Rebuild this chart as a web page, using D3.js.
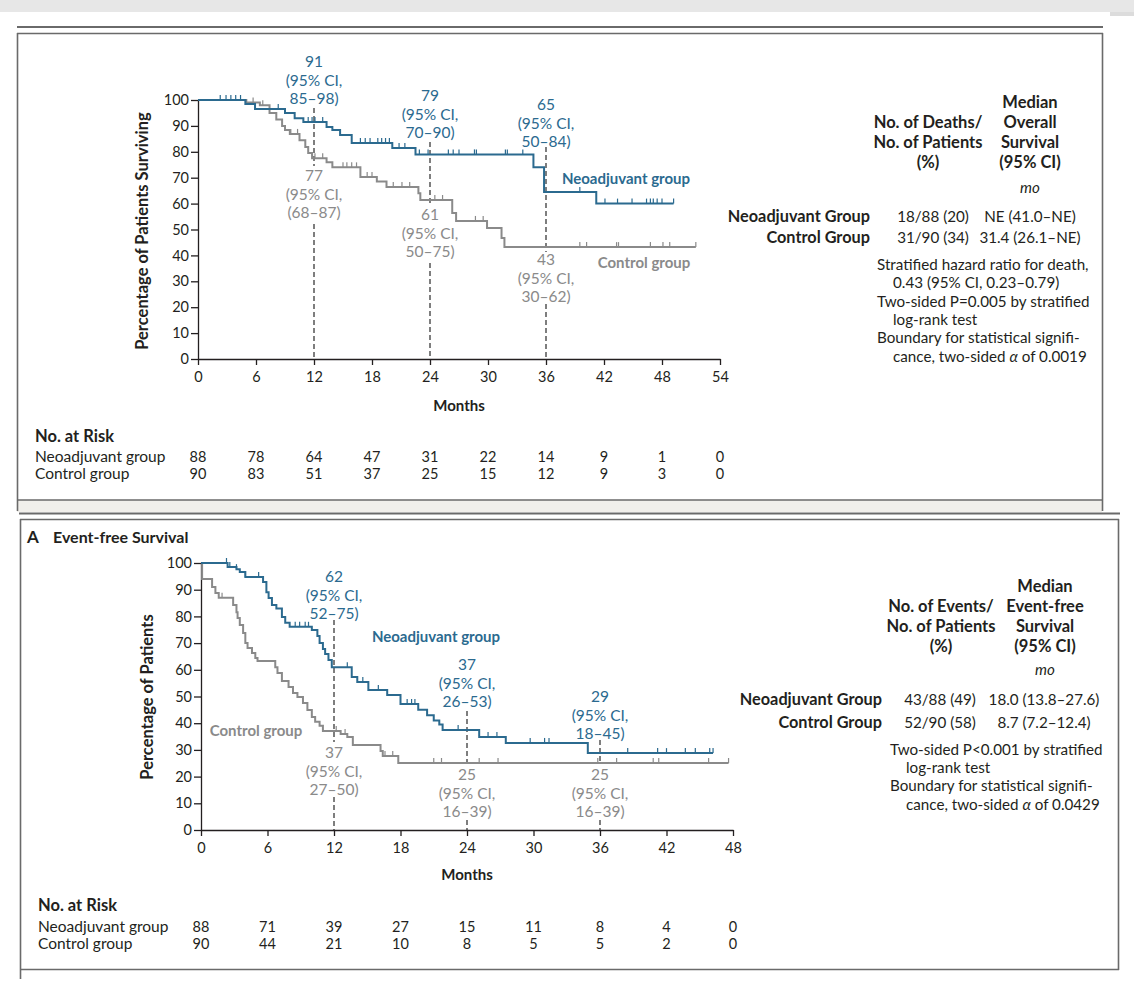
<!DOCTYPE html>
<html>
<head>
<meta charset="utf-8">
<script src="https://cdn.jsdelivr.net/npm/d3@7"></script>
<style>
  body { margin: 0; background: #fff; }
  svg { display: block; font-family: Lato, "Open Sans", sans-serif; }
</style>
</head>
<body>
<svg id="chart" width="1134" height="994"></svg>
<script>
// ---------------------------------------------------------
// DATA
// ---------------------------------------------------------

// Overall survival: [month, % surviving after the drop]
const osNeoSteps = [[4.9, 98.5], [5.9, 96.5], [9.0, 95], [10.0, 93], [10.9, 91.5], [13.3, 89.6],
  [13.9, 88.4], [14.7, 86.5], [15.9, 83.4], [20.1, 81.5], [22.5, 79], [34.7, 74], [35.8, 64.5], [41.2, 60]];
const osNeoEnd = 49.2;
const osNeoCensor = [2.3, 2.9, 3.4, 3.9, 4.4, 8.3, 11.4, 11.8, 12.1, 12.9, 16.8, 17.3, 17.8, 18.6, 19.0,
  19.4, 19.8, 20.8, 21.4, 22.9, 23.8, 25.9, 26.4, 27.0, 28.6, 28.8, 31.8, 32.0, 33.6, 39.5, 42.1, 43.4,
  44.9, 46.4, 46.8, 47.1, 47.5, 48.0, 49.2];

const osCtrlSteps = [[5.0, 99], [6.4, 98], [7.4, 95], [8.1, 92.5], [8.7, 90], [9.0, 88.4], [9.5, 86.9],
  [10.5, 84.5], [11.1, 81.9], [11.4, 79.5], [11.8, 77.5], [13.3, 76], [13.9, 74], [16.8, 70.3], [18.5, 68.5],
  [19.5, 66.4], [22.8, 64], [23.0, 61.4], [26.3, 56.4], [26.7, 53.3], [29.9, 50.6], [31.4, 46.7], [31.7, 43.2]];
const osCtrlEnd = 51.5;
const osCtrlCensor = [5.7, 6.7, 9.6, 10.3, 12.1, 12.9, 15.0, 15.4, 15.9, 16.4, 17.5, 18.0, 20.2, 21.1, 21.9,
  24.5, 25.3, 28.7, 29.5, 39.5, 40.2, 43.3, 43.5, 46.8, 48.1, 48.8, 51.5];

// Event-free survival
const efsNeoSteps = [[2.4, 98.5], [3.2, 97.7], [3.5, 96.6], [4.0, 94.8], [5.6, 92.9], [5.9, 89], [6.1, 86.9],
  [6.4, 84.3], [6.8, 83], [7.3, 79.8], [7.6, 77.6], [8.0, 76.1], [10.0, 74.9], [10.5, 72.7], [10.7, 70],
  [11.0, 67.8], [11.2, 65.9], [11.5, 63.7], [11.8, 61], [13.6, 57.3], [14.1, 55.4], [15.1, 52.4],
  [16.8, 50.6], [18.0, 47.2], [19.6, 45], [20.4, 43], [21.0, 41], [21.5, 39.5], [21.8, 37.5],
  [25.1, 34.8], [27.5, 32.6], [34.9, 28.8]];
const efsNeoEnd = 46.2;
const efsNeoCensor = [2.3, 2.6, 3.2, 4.0, 5.2, 8.5, 8.9, 9.4, 9.7, 13.2, 14.6, 16.0, 18.6, 19.0, 19.3, 23.2,
  25.9, 26.7, 29.7, 31.0, 31.4, 38.5, 41.2, 42.0, 43.7, 44.6, 45.9, 46.2];

const efsCtrlSteps = [[0.1, 94], [1.0, 91], [1.3, 88.8], [1.6, 87], [2.9, 84.3], [3.2, 81.6], [3.3, 79.4],
  [3.5, 76.8], [3.8, 73.8], [4.0, 70], [4.2, 68.2], [4.6, 66.3], [4.9, 64.4], [5.1, 63.3], [6.7, 61],
  [6.9, 58.8], [7.3, 55.8], [7.9, 53.6], [8.3, 51.3], [8.7, 49.8], [9.2, 47.6], [9.6, 44.9], [10.0, 42.3],
  [10.3, 40.5], [10.7, 39], [11.0, 37.1], [12.6, 36], [13.2, 34.8], [13.7, 31.8], [16.2, 29.6],
  [16.4, 27.7], [17.8, 25.1]];
const efsCtrlEnd = 47.6;
const efsCtrlCensor = [1.9, 12.2, 13.0, 16.6, 17.3, 21.0, 21.7, 25.1, 26.8, 35.8, 37.5, 40.8, 41.3, 45.8, 47.6];

// tick labels
const yTickValues = [0, 10, 20, 30, 40, 50, 60, 70, 80, 90, 100];
const osMonths = [0, 6, 12, 18, 24, 30, 36, 42, 48, 54];
const efsMonths = [0, 6, 12, 18, 24, 30, 36, 42, 48];

// numbers at risk
const osRiskNeo = [88, 78, 64, 47, 31, 22, 14, 9, 1, 0];
const osRiskCtrl = [90, 83, 51, 37, 25, 15, 12, 9, 3, 0];
const efsRiskNeo = [88, 71, 39, 27, 15, 11, 8, 4, 0];
const efsRiskCtrl = [90, 44, 21, 10, 8, 5, 5, 2, 0];

// landmark estimates: month, group, lines of text
const osLandmarks = [
  { t: 12, g: "neo", text: ["91", "(95% CI,", "85\u201398)"] },
  { t: 12, g: "ctrl", text: ["77", "(95% CI,", "(68\u201387)"] },
  { t: 24, g: "neo", text: ["79", "(95% CI,", "70\u201390)"] },
  { t: 24, g: "ctrl", text: ["61", "(95% CI,", "50\u201375)"] },
  { t: 36, g: "neo", text: ["65", "(95% CI,", "50\u201384)"] },
  { t: 36, g: "ctrl", text: ["43", "(95% CI,", "30\u201362)"] }
];
const efsLandmarks = [
  { t: 12, g: "neo", text: ["62", "(95% CI,", "52\u201375)"] },
  { t: 12, g: "ctrl", text: ["37", "(95% CI,", "27\u201350)"] },
  { t: 24, g: "neo", text: ["37", "(95% CI,", "26\u201353)"] },
  { t: 24, g: "ctrl", text: ["25", "(95% CI,", "16\u201339)"] },
  { t: 36, g: "neo", text: ["29", "(95% CI,", "18\u201345)"] },
  { t: 36, g: "ctrl", text: ["25", "(95% CI,", "16\u201339)"] }
];

// summary tables
const osTableRows = [
  ["Neoadjuvant Group", "18/88 (20)", "NE (41.0\u2013NE)"],
  ["Control Group", "31/90 (34)", "31.4 (26.1\u2013NE)"]
];
const efsTableRows = [
  ["Neoadjuvant Group", "43/88 (49)", "18.0 (13.8\u201327.6)"],
  ["Control Group", "52/90 (58)", "8.7 (7.2\u201312.4)"]
];

// ---------------------------------------------------------
// STYLE & LAYOUT
// ---------------------------------------------------------
const BLUE = "#2b6a8f", GRAY = "#8a8a8a", INK = "#231f20", FRAME = "#6a6a6a";
const svg = d3.select("#chart");

// page furniture
svg.append("rect").attr("x", 0).attr("y", 0).attr("width", 1134).attr("height", 12).attr("fill", "#e7e7e7");
svg.append("rect").attr("x", 1110).attr("y", 12).attr("width", 24).attr("height", 4).attr("fill", "#dcdcdc");
svg.append("rect").attr("x", 17).attr("y", 500).attr("width", 1085).attr("height", 12).attr("fill", "#f1efeb");

function hline(x1, x2, y, w) {
  svg.append("line").attr("x1", x1).attr("x2", x2).attr("y1", y).attr("y2", y)
    .attr("stroke", FRAME).attr("stroke-width", w);
}
function vline(x, y1, y2, w) {
  svg.append("line").attr("x1", x).attr("x2", x).attr("y1", y1).attr("y2", y2)
    .attr("stroke", FRAME).attr("stroke-width", w);
}
// panel 1 frame
hline(17, 1103, 27, 2.2);
hline(17, 1103, 33.5, 1.6);
vline(17.5, 33, 511, 1.6);
vline(1102.5, 33, 511, 1.6);
hline(17, 1103, 500, 1.6);
// panel 2 frame
hline(19, 1120, 513.5, 2.2);
hline(20, 1119, 519.5, 1.6);
vline(20.5, 519, 979, 1.6);
vline(1118.5, 519, 970, 1.6);
hline(20, 1119, 969.5, 1.6);

const panels = [
  {
    xDomain: [0, 54], xRange: [198, 720], yRange: [359, 100], months: osMonths,
    neo: { steps: osNeoSteps, end: osNeoEnd, censor: osNeoCensor },
    ctrl: { steps: osCtrlSteps, end: osCtrlEnd, censor: osCtrlCensor },
    landmarks: osLandmarks,
    // first baseline of each landmark label, in landmark order
    labelTop: [67, 181, 101, 220, 110, 265],
    dashes: { 12: [[108, 166], [224, 359]], 24: [[142, 206], [263, 359]], 36: [[147, 252], [304, 359]] },
    yTitle: "Percentage of Patients Surviving", yTitleX: 142, yTitleY: 231,
    monthsY: 411,
    neoLabel: [626, 184], ctrlLabel: [644, 268],
    risk: { x: 35, y: [442, 462, 479], neo: osRiskNeo, ctrl: osRiskCtrl }
  },
  {
    xDomain: [0, 48], xRange: [201, 733], yRange: [830, 563], months: efsMonths,
    neo: { steps: efsNeoSteps, end: efsNeoEnd, censor: efsNeoCensor },
    ctrl: { steps: efsCtrlSteps, end: efsCtrlEnd, censor: efsCtrlCensor },
    landmarks: efsLandmarks,
    labelTop: [582, 758, 670, 780, 702, 780],
    dashes: { 12: [[620, 742], [797, 830]], 24: [[711, 764], [820, 830]], 36: [[740, 764], [820, 830]] },
    yTitle: "Percentage of Patients", yTitleX: 147, yTitleY: 697,
    monthsY: 880,
    neoLabel: [436, 642], ctrlLabel: [256, 736],
    risk: { x: 38, y: [911, 932, 949], neo: efsRiskNeo, ctrl: efsRiskCtrl }
  }
];

function survAt(steps, t) {
  let s = 100;
  for (const [ts, v] of steps) if (ts <= t) s = v;
  return s;
}

function drawPanel(p) {
  const x = d3.scaleLinear().domain(p.xDomain).range(p.xRange);
  const y = d3.scaleLinear().domain([0, 100]).range(p.yRange);
  const g = svg.append("g");

  // dashed landmark guides
  Object.entries(p.dashes).forEach(([t, segs]) => {
    segs.forEach(([y1, y2]) => {
      g.append("line").attr("x1", x(+t)).attr("x2", x(+t)).attr("y1", y1).attr("y2", y2)
        .attr("stroke", "#3a3a3a").attr("stroke-width", 1.3).attr("stroke-dasharray", "5,3");
    });
  });

  // axes
  const yAxis = g.append("g").attr("transform", `translate(${x(0)},0)`)
    .call(d3.axisLeft(y).tickValues(yTickValues).tickSize(7).tickSizeOuter(0).tickPadding(2));
  const xAxis = g.append("g").attr("transform", `translate(0,${y(0)})`)
    .call(d3.axisBottom(x).tickValues(p.months).tickSize(6).tickSizeOuter(0).tickPadding(7));
  [yAxis, xAxis].forEach(a => {
    a.selectAll("path, line").attr("stroke", INK).attr("stroke-width", 1.3);
    a.selectAll("text").attr("fill", INK).style("font-size", "14.5px").style("font-family", "Lato, sans-serif");
  });

  // survival curves
  const line = d3.line().x(d => x(d[0])).y(d => y(d[1])).curve(d3.curveStepAfter);
  [["ctrl", GRAY], ["neo", BLUE]].forEach(([key, color]) => {
    const s = p[key];
    const pts = [[0, 100], ...s.steps, [s.end, s.steps[s.steps.length - 1][1]]];
    g.append("path").datum(pts).attr("d", line)
      .attr("fill", "none").attr("stroke", color).attr("stroke-width", 2);
    g.selectAll(null).data(s.censor).enter().append("line")
      .attr("x1", d => x(d)).attr("x2", d => x(d))
      .attr("y1", d => y(survAt(s.steps, d))).attr("y2", d => y(survAt(s.steps, d)) - 5)
      .attr("stroke", color).attr("stroke-width", 1.2);
  });

  // landmark labels
  p.landmarks.forEach((lm, i) => {
    const t = g.append("text").attr("text-anchor", "middle")
      .attr("fill", lm.g === "neo" ? BLUE : GRAY).style("font-size", "15.5px");
    lm.text.forEach((s, k) => {
      t.append("tspan").attr("x", x(lm.t)).attr("y", p.labelTop[i] + k * 18.5).text(s);
    });
  });

  // group labels
  g.append("text").attr("x", p.neoLabel[0]).attr("y", p.neoLabel[1]).attr("text-anchor", "middle")
    .attr("fill", BLUE).style("font-size", "15px").style("font-weight", 700).text("Neoadjuvant group");
  g.append("text").attr("x", p.ctrlLabel[0]).attr("y", p.ctrlLabel[1]).attr("text-anchor", "middle")
    .attr("fill", GRAY).style("font-size", "15px").style("font-weight", 700).text("Control group");

  // axis titles
  g.append("text").attr("transform", `translate(${p.yTitleX},${p.yTitleY}) rotate(-90)`)
    .attr("text-anchor", "middle").attr("dy", "0.35em").attr("fill", INK)
    .style("font-size", "16.5px").style("font-weight", 700).text(p.yTitle);
  g.append("text").attr("x", (x.range()[0] + x.range()[1]) / 2).attr("y", p.monthsY)
    .attr("text-anchor", "middle").attr("fill", INK)
    .style("font-size", "15px").style("font-weight", 700).text("Months");

  // numbers at risk
  const r = p.risk;
  g.append("text").attr("x", r.x).attr("y", r.y[0]).attr("fill", INK)
    .style("font-size", "16.5px").style("font-weight", 700).text("No. at Risk");
  [["Neoadjuvant group", r.neo, r.y[1]], ["Control group", r.ctrl, r.y[2]]].forEach(([name, vals, yy]) => {
    g.append("text").attr("x", r.x).attr("y", yy).attr("fill", INK).style("font-size", "15.5px").text(name);
    g.selectAll(null).data(vals).enter().append("text")
      .attr("x", (d, i) => x(p.months[i])).attr("y", yy).attr("text-anchor", "middle")
      .attr("fill", INK).style("font-size", "14.5px").text(d => d);
  });
}

panels.forEach(drawPanel);

// panel title
svg.append("text").attr("x", 27).attr("y", 543).attr("fill", INK)
  .style("font-size", "17px").style("font-weight", 700).text("A");
svg.append("text").attr("x", 53).attr("y", 543).attr("fill", INK)
  .style("font-size", "16px").style("font-weight", 700).text("Event-free Survival");

// summary tables
function drawTable(cfg) {
  const g = svg.append("g").attr("fill", INK).style("font-size", "15.2px");
  cfg.head1.forEach((s, i) => g.append("text").attr("x", cfg.c1).attr("y", cfg.headY[i + 1])
    .attr("text-anchor", "middle").style("font-weight", 700).style("font-size", "16.5px").text(s));
  cfg.head2.forEach((s, i) => g.append("text").attr("x", cfg.c2).attr("y", cfg.headY[i])
    .attr("text-anchor", "middle").style("font-weight", 700).style("font-size", "16.5px").text(s));
  g.append("text").attr("x", cfg.c2).attr("y", cfg.moY).attr("text-anchor", "middle")
    .style("font-style", "italic").text("mo");
  cfg.rows.forEach((row, i) => {
    g.append("text").attr("x", cfg.labelX).attr("y", cfg.rowY[i]).attr("text-anchor", "end")
      .style("font-weight", 700).style("font-size", "16.3px").text(row[0]);
    g.append("text").attr("x", cfg.v1).attr("y", cfg.rowY[i]).attr("text-anchor", "middle").text(row[1]);
    g.append("text").attr("x", cfg.v2).attr("y", cfg.rowY[i]).attr("text-anchor", "middle").text(row[2]);
  });
  cfg.notes.forEach((n, i) => {
    const t = g.append("text").attr("x", n.indent ? cfg.noteX + 16 : cfg.noteX).attr("y", cfg.noteY[i]);
    if (n.alpha) {
      t.append("tspan").text(n.text);
      t.append("tspan").style("font-style", "italic").text("\u03b1");
      t.append("tspan").text(n.alpha);
    } else t.text(n.text);
  });
}

drawTable({
  head1: ["No. of Deaths/", "No. of Patients", "(%)"],
  head2: ["Median", "Overall", "Survival", "(95% CI)"],
  headY: [108, 128, 148, 168], moY: 193,
  c1: 928, c2: 1030, v1: 933, v2: 1030, labelX: 870,
  rows: osTableRows, rowY: [222, 243],
  noteX: 877, noteY: [270, 288, 307, 325, 343, 362],
  notes: [
    { text: "Stratified hazard ratio for death," },
    { text: "0.43 (95% CI, 0.23\u20130.79)", indent: true },
    { text: "Two-sided P=0.005 by stratified" },
    { text: "log-rank test", indent: true },
    { text: "Boundary for statistical signifi-" },
    { text: "cance, two-sided ", alpha: " of 0.0019", indent: true }
  ]
});

drawTable({
  head1: ["No. of Events/", "No. of Patients", "(%)"],
  head2: ["Median", "Event-free", "Survival", "(95% CI)"],
  headY: [592, 612, 632, 652], moY: 675,
  c1: 941, c2: 1045, v1: 940, v2: 1044, labelX: 882,
  rows: efsTableRows, rowY: [705, 728],
  noteX: 890, noteY: [755, 773, 791, 810],
  notes: [
    { text: "Two-sided P<0.001 by stratified" },
    { text: "log-rank test", indent: true },
    { text: "Boundary for statistical signifi-" },
    { text: "cance, two-sided ", alpha: " of 0.0429", indent: true }
  ]
});
</script>
</body>
</html>
